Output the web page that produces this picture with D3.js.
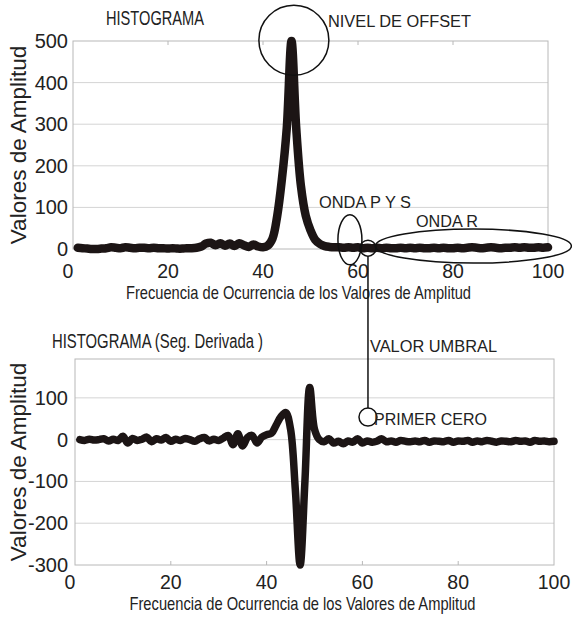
<!DOCTYPE html>
<html>
<head>
<meta charset="utf-8">
<script src="https://cdn.jsdelivr.net/npm/d3@7"></script>
<style>
  body { margin: 0; background: #fff; }
  svg { display: block; font-family: "Liberation Sans", Arial, sans-serif; }
  .narrow { font-family: "Liberation Sans Narrow", "Arial Narrow", "Liberation Sans", sans-serif; }
</style>
</head>
<body>
<svg id="chart" width="572" height="620"></svg>
<script>
// values, one per amplitude bin (1..100)
let histogram = [
  3, 2, 1, 0, 0, 1, 2, 4, 3, 2,
  4, 3, 2, 3, 3, 2, 3, 2, 2, 1,
  2, 1, 1, 2, 2, 3, 6, 13, 15, 9,
  14, 8, 13, 7, 14, 9, 5, 11, 6, 4,
  8, 25, 80, 170, 290, 500, 290, 150, 80, 45,
  22, 12, 7, 5, 4, 4, 3, 4, 3, 4,
  2, 3, 2, 3, 2, 3, 2, 2, 3, 2,
  3, 2, 3, 2, 2, 3, 2, 3, 2, 2,
  3, 2, 3, 4, 3, 2, 3, 4, 3, 2,
  3, 3, 4, 3, 4, 3, 3, 4, 3, 4
]
let secondDerivative = [
  0, -2, 1, -1, 0, 2, -3, 1, -2, 8,
  -8, 3, -2, 1, 6, -5, 2, -1, 5, -4,
  1, -2, 3, 0, -4, 2, 5, -3, 1, -2,
  4, 10, -12, 14, -15, 5, 10, -8, 6, 12,
  15, 35, 55, 65, 25, -120, -300, -100, 125, 25,
  0, -5, 2, -8, -4, -10, -3, -6, 2, -8,
  -3, -6, -4, 2, -5, -3, -6, -2, -4, -5,
  -3, -5, -2, -6, -3, -4, -5, -2, -6, -3,
  -4, -2, -6, -3, -5, -2, -4, -6, -3, -4,
  -5, -2, -4, -3, -6, -2, -4, -3, -5, -4
]
let xTicks = [0, 20, 40, 60, 80, 100]
let topYTicks = [0, 100, 200, 300, 400, 500]
let bottomYTicks = [-300, -200, -100, 0, 100]

let svg = d3.select('#chart')
let lineColor = '#1c1515'
let gridColor = '#d4d4d4'
let frameColor = '#b8b8b8'

let xTop = d3.scaleLinear().domain([0, 100]).range([73, 548])
let yTop = d3.scaleLinear().domain([0, 500]).range([249, 41])
let xBottom = d3.scaleLinear().domain([0, 100]).range([75, 554])
let yBottom = d3.scaleLinear().domain([-300, 193]).range([565, 359])

function drawPanel(x, y, yTicks, data, tickSide, title, titleY, titleLen, xLabelY, xTitleY, xTitleLen, strokeW) {
    let g = svg.append('g')
    let [y0, y1] = y.domain()

    // gridlines
    g.selectAll('.grid')
        .data(yTicks.filter(d => d > y0 && d < y1))
        .enter().append('line')
        .attr('x1', x(0)).attr('x2', x(100))
        .attr('y1', d => y(d)).attr('y2', d => y(d))
        .attr('stroke', gridColor)

    g.append('rect')
        .attr('x', x(0)).attr('y', y(y1))
        .attr('width', x(100) - x(0)).attr('height', y(y0) - y(y1))
        .attr('fill', 'none')
        .attr('stroke', frameColor)

    // small tick marks on the frame
    let edge = tickSide === 'top' ? y(y1) : y(y0)
    let dir = tickSide === 'top' ? 4 : -4
    g.selectAll('.xtick')
        .data(xTicks.slice(1, -1))
        .enter().append('line')
        .attr('x1', d => x(d)).attr('x2', d => x(d))
        .attr('y1', edge).attr('y2', edge + dir)
        .attr('stroke', frameColor)

    g.selectAll('.ylab')
        .data(yTicks)
        .enter().append('text')
        .attr('x', 68)
        .attr('y', d => y(d) + 7)
        .attr('text-anchor', 'end')
        .style('font-size', '20px')
        .attr('fill', '#222')
        .text(d => d)

    g.selectAll('.xlab')
        .data(xTicks)
        .enter().append('text')
        .attr('x', d => d === 0 ? x(d) - 5 : x(d))
        .attr('y', xLabelY)
        .attr('text-anchor', 'middle')
        .style('font-size', '19.5px')
        .attr('fill', '#222')
        .text(d => d)

    let line = d3.line()
        .x((d, i) => x(i + 1))
        .y(d => y(d))
        .curve(d3.curveCatmullRom)

    g.append('path')
        .datum(data)
        .attr('d', line)
        .attr('fill', 'none')
        .attr('stroke', lineColor)
        .attr('stroke-width', strokeW)
        .attr('stroke-linejoin', 'round')
        .attr('stroke-linecap', 'round')

    g.append('text')
        .attr('class', 'narrow')
        .attr('x', (x(0) + x(100)) / 2 - 12)
        .attr('y', xTitleY)
        .attr('text-anchor', 'middle')
        .attr('textLength', xTitleLen)
        .attr('lengthAdjust', 'spacingAndGlyphs')
        .style('font-size', '19px')
        .attr('fill', '#222')
        .text('Frecuencia de Ocurrencia de los Valores de Amplitud')

    let midY = (y(y0) + y(y1)) / 2
    g.append('text')
        .attr('transform', 'translate(26,' + midY + ') rotate(-90)')
        .attr('text-anchor', 'middle')
        .style('font-size', '22.5px')
        .attr('fill', '#222')
        .text('Valores de Amplitud')

    g.append('text')
        .attr('class', 'narrow')
        .attr('x', title.x)
        .attr('y', titleY)
        .attr('textLength', titleLen)
        .attr('lengthAdjust', 'spacingAndGlyphs')
        .style('font-size', '20px')
        .attr('fill', '#222')
        .text(title.text)
}

drawPanel(xTop, yTop, topYTicks, histogram, 'top',
    {x: 106, text: 'HISTOGRAMA'}, 25, 98, 278, 299, 345, 8.5)
drawPanel(xBottom, yBottom, bottomYTicks, secondDerivative, 'bottom',
    {x: 52, text: 'HISTOGRAMA (Seg. Derivada )'}, 348, 211, 589, 610, 346, 7.5)

// annotations
let notes = svg.append('g')
    .attr('fill', 'none')
    .attr('stroke', '#111')
    .attr('stroke-width', 1.5)

notes.append('circle')
    .attr('cx', xTop(46.5)).attr('cy', yTop(502)).attr('r', 35)
notes.append('ellipse')
    .attr('cx', xTop(58.3)).attr('cy', yTop(22)).attr('rx', 12).attr('ry', 25)
notes.append('ellipse')
    .attr('cx', xTop(84.3)).attr('cy', yTop(7)).attr('rx', 98).attr('ry', 17)
notes.append('circle')
    .attr('cx', xTop(62.1)).attr('cy', yTop(2)).attr('r', 8)
notes.append('line')
    .attr('x1', xTop(62.1)).attr('x2', xTop(62.1))
    .attr('y1', yTop(2) + 8).attr('y2', yBottom(54) - 9)
notes.append('circle')
    .attr('cx', xTop(62.1)).attr('cy', yBottom(54)).attr('r', 9)

let labels = [
    {text: 'NIVEL DE OFFSET', x: 328, y: 27, len: 143},
    {text: 'ONDA P Y S', x: 319, y: 208, len: 92},
    {text: 'ONDA R', x: 416, y: 227, len: 62},
    {text: 'VALOR UMBRAL', x: 370, y: 352, len: 127},
    {text: 'PRIMER CERO', x: 374, y: 425, len: 113}
]
svg.selectAll('.note')
    .data(labels)
    .enter().append('text')
    .attr('x', d => d.x)
    .attr('y', d => d.y)
    .attr('textLength', d => d.len)
    .attr('lengthAdjust', 'spacingAndGlyphs')
    .style('font-size', '16px')
    .attr('fill', '#222')
    .text(d => d.text)
</script>
</body>
</html>
